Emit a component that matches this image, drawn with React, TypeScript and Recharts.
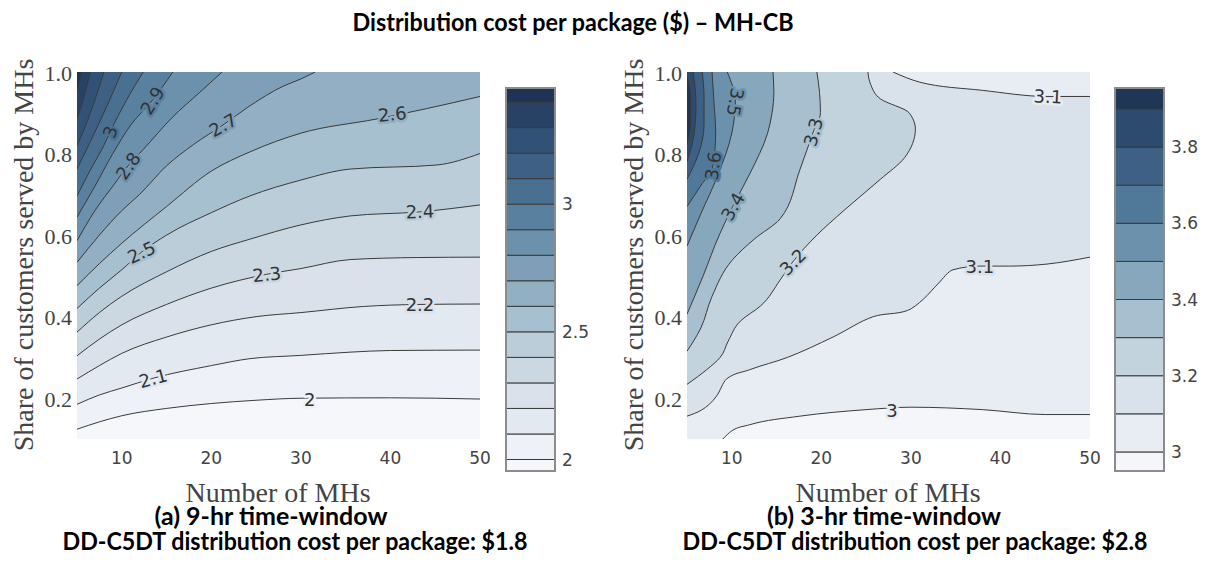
import React from 'react';
import { ComposedChart, Area, Line, XAxis, YAxis, Scatter, ReferenceArea } from 'recharts';

type Pt = [number, number];

// ---------------- shared axes ----------------
const xTicks = [10, 20, 30, 40, 50];
const yTicks = [0.2, 0.4, 0.6, 0.8, 1.0];
const xDomain: [number, number] = [5, 50];
const yDomain: [number, number] = [0.1, 1.0];

// ---------------- panel (a): 9-hr time-window ----------------
const levelsA = [2.0, 2.1, 2.2, 2.3, 2.4, 2.5, 2.6, 2.7, 2.8, 2.9, 3.0, 3.1, 3.2, 3.3, 3.4];
const cA200: Pt[] = [[5, 0.124], [7.5, 0.142], [10, 0.157], [15, 0.175], [20, 0.187], [25, 0.195], [30, 0.2], [40, 0.201], [50, 0.198]];
const cA210: Pt[] = [[5, 0.185], [7.5, 0.208], [10, 0.225], [13.5, 0.249], [20, 0.28], [24.3, 0.297], [30, 0.305], [35.5, 0.313], [40, 0.317], [50, 0.318]];
const cA220: Pt[] = [[5, 0.247], [7.5, 0.28], [10, 0.31], [15, 0.35], [20, 0.38], [25, 0.4], [30, 0.41], [37, 0.425], [43.3, 0.43], [50, 0.431]];
const cA230: Pt[] = [[5, 0.304], [7.5, 0.345], [10, 0.38], [15, 0.43], [20, 0.47], [26.2, 0.504], [30, 0.518], [35.5, 0.54], [43, 0.545], [50, 0.546]];
const cA240: Pt[] = [[5, 0.362], [7.5, 0.41], [10, 0.45], [15, 0.51], [20, 0.56], [24.3, 0.59], [30, 0.625], [35.5, 0.647], [43.3, 0.657], [50, 0.674]];
const cA250: Pt[] = [[5, 0.42], [7.5, 0.47], [10, 0.515], [12.2, 0.558], [15, 0.6], [20, 0.655], [24.3, 0.696], [30, 0.735], [35.5, 0.762], [45.2, 0.772], [50, 0.8]];
const cA260: Pt[] = [[5, 0.476], [7.5, 0.53], [10, 0.58], [15, 0.67], [20, 0.757], [24.3, 0.804], [30, 0.85], [38.5, 0.885], [44, 0.91], [50, 0.94]];
const cA270: Pt[] = [[5, 0.533], [7.5, 0.6], [10, 0.66], [12, 0.7], [15, 0.77], [18, 0.822], [21.3, 0.87], [24.3, 0.917], [28, 0.965], [30, 0.983], [31.6, 1.0]];
const cA280: Pt[] = [[5, 0.586], [7, 0.66], [9, 0.72], [10.7, 0.77], [12.4, 0.81], [15.7, 0.89], [18.7, 0.95], [21.2, 1.0]];
const cA290: Pt[] = [[5, 0.644], [7, 0.72], [9, 0.8], [11, 0.87], [13.4, 0.93], [15.7, 1.0]];
const cA300: Pt[] = [[5, 0.696], [6.5, 0.76], [8, 0.82], [8.7, 0.853], [10.5, 0.93], [12.4, 1.0]];
const cA310: Pt[] = [[5, 0.762], [6.5, 0.83], [8, 0.9], [10, 1.0]];
const cA320: Pt[] = [[5, 0.819], [6.5, 0.9], [8, 1.0]];
const cA330: Pt[] = [[5, 0.885], [5.8, 0.94], [6.5, 1.0]];
const cA340: Pt[] = [[5, 0.95], [5.5, 1.0]];
const contoursA = [cA200, cA210, cA220, cA230, cA240, cA250, cA260, cA270, cA280, cA290, cA300, cA310, cA320, cA330, cA340];
const labelsA = [
  { x: 31, y: 0.198, text: '2', angle: 0, level: 2.0 },
  { x: 13.5, y: 0.249, text: '2.1', angle: -15, level: 2.1 },
  { x: 43.3, y: 0.43, text: '2.2', angle: 0, level: 2.2 },
  { x: 26.2, y: 0.504, text: '2.3', angle: -6, level: 2.3 },
  { x: 43.3, y: 0.658, text: '2.4', angle: -2, level: 2.4 },
  { x: 12.2, y: 0.558, text: '2.5', angle: -25, level: 2.5 },
  { x: 40.2, y: 0.897, text: '2.6', angle: -6, level: 2.6 },
  { x: 21.3, y: 0.87, text: '2.7', angle: -30, level: 2.7 },
  { x: 10.7, y: 0.77, text: '2.8', angle: -55, level: 2.8 },
  { x: 13.4, y: 0.93, text: '2.9', angle: -58, level: 2.9 },
  { x: 8.7, y: 0.853, text: '3', angle: -70, level: 3.0 },
];
const cbarRangeA: [number, number] = [1.955, 3.455];
const cbarTicksA = [2, 2.5, 3];

// ---------------- panel (b): 3-hr time-window ----------------
const levelsB = [3.0, 3.1, 3.2, 3.3, 3.4, 3.5, 3.6, 3.7, 3.8, 3.9];
// contours running left-to-right
const cB300: Pt[] = [[9, 0.1], [10, 0.12], [12, 0.135], [17.6, 0.156], [25, 0.172], [30, 0.178], [38, 0.172], [45, 0.16], [50, 0.16]];
const cB310lo: Pt[] = [[5, 0.156], [8.3, 0.205], [9.4, 0.247], [12, 0.27], [16.2, 0.3], [21.3, 0.35], [25.8, 0.4], [29.6, 0.415], [31.4, 0.443], [33, 0.48], [34.7, 0.515], [37.7, 0.524], [41, 0.524], [45.2, 0.529], [50, 0.546]];
const cB310hi: Pt[] = [[28, 1.0], [31, 0.975], [38, 0.955], [45.2, 0.94], [50, 0.94]];
// contours running bottom-to-top
const cB320: Pt[] = [[5, 0.234], [7.2, 0.27], [8.7, 0.3], [9.6, 0.34], [11, 0.39], [13.2, 0.426], [15.4, 0.49], [16.8, 0.534], [19.5, 0.6], [22.5, 0.66], [26.6, 0.737], [29.3, 0.79], [30.5, 0.86], [29.8, 0.9], [26.6, 0.934], [25.5, 0.97], [25.2, 1.0]];
const cB330: Pt[] = [[5, 0.315], [6.5, 0.37], [7.8, 0.45], [10.1, 0.54], [12.5, 0.59], [15.4, 0.64], [17.6, 0.76], [19.1, 0.853], [19.9, 0.9], [19.8, 0.95], [19.5, 1.0]];
const cB340: Pt[] = [[5, 0.406], [6.8, 0.5], [8.6, 0.6], [10.1, 0.67], [12, 0.75], [14, 0.85], [14.5, 0.9], [14.7, 0.95], [14.6, 1.0]];
const cB350: Pt[] = [[5, 0.573], [6.5, 0.65], [8.5, 0.75], [10, 0.85], [10.4, 0.926], [9.5, 1.0]];
const cB360: Pt[] = [[5, 0.67], [6.5, 0.72], [7.9, 0.77], [8.2, 0.85], [8.0, 0.93], [7.8, 1.0]];
const cB370: Pt[] = [[5, 0.737], [6.3, 0.8], [6.9, 0.87], [6.9, 0.94], [6.7, 1.0]];
const cB380: Pt[] = [[5, 0.78], [5.8, 0.85], [6.0, 0.92], [5.7, 1.0]];
const cB390: Pt[] = [[5, 0.82], [5.4, 0.88], [5.4, 0.94], [5, 0.99]];
const verticalB = [
  { level: 3.2, pts: cB320 }, { level: 3.3, pts: cB330 }, { level: 3.4, pts: cB340 }, { level: 3.5, pts: cB350 },
  { level: 3.6, pts: cB360 }, { level: 3.7, pts: cB370 }, { level: 3.8, pts: cB380 }, { level: 3.9, pts: cB390 },
];
const labelsB = [
  { x: 27.9, y: 0.17, text: '3', angle: 0, level: 3.0 },
  { x: 37.7, y: 0.524, text: '3.1', angle: 0, level: 3.1 },
  { x: 45.3, y: 0.94, text: '3.1', angle: 3, level: 3.0 },
  { x: 16.8, y: 0.534, text: '3.2', angle: -45, level: 3.2 },
  { x: 19.1, y: 0.853, text: '3.3', angle: -75, level: 3.3 },
  { x: 10.1, y: 0.67, text: '3.4', angle: -60, level: 3.4 },
  { x: 10.4, y: 0.926, text: '3.5', angle: 100, level: 3.5 },
  { x: 7.9, y: 0.77, text: '3.6', angle: -82, level: 3.6 },
];
const cbarRangeB: [number, number] = [2.95, 3.955];
const cbarTicksB = [3, 3.2, 3.4, 3.6, 3.8];

// ---------------- colours ----------------
const SCALE = ['#f8f9fc', '#e8edf4', '#d9e1ea', '#c3d3de', '#a6bfce', '#86a6bc', '#6a90ab', '#4f7797', '#3c5f83', '#2b4a6e', '#1c2e4e'];
function hex(h: string) { return [1, 3, 5].map((i) => parseInt(h.slice(i, i + 2), 16)); }
function scaleColor(t: number) {
  const tt = Math.max(0, Math.min(1, t)) * (SCALE.length - 1);
  const i = Math.min(SCALE.length - 2, Math.floor(tt));
  const f = tt - i;
  const a = hex(SCALE[i]); const b = hex(SCALE[i + 1]);
  const c = a.map((v, k) => Math.round(v + (b[k] - v) * f));
  return `rgb(${c[0]},${c[1]},${c[2]})`;
}
function bandColor(lo: number, hi: number, range: [number, number]) {
  return scaleColor(((lo + hi) / 2 - range[0]) / (range[1] - range[0]));
}
function aboveColor(level: number, levels: number[], range: [number, number]) {
  const i = levels.indexOf(level);
  const hi = i + 1 < levels.length ? levels[i + 1] : range[1];
  return bandColor(level, hi, range);
}

const toObj = (c: Pt[]) => c.map(([x, y]) => ({ x, y }));
const fullSpan = [{ x: xDomain[0] }, { x: xDomain[1] }];
const LINE = '#3a3a3a';
const SERIF = "'Liberation Serif', 'DejaVu Serif', serif";
const SANS = "'DejaVu Sans', sans-serif";

const XTick = (p: any) => (
  <text x={p.x} y={p.y + 19} textAnchor="middle" dominantBaseline="central" style={{ fontFamily: SANS, fontSize: 17 }} fill="#444">
    {p.payload.value}
  </text>
);
const YTick = (p: any) => (
  <text x={p.x - 5} y={p.y + 1} textAnchor="end" dominantBaseline="central" style={{ fontFamily: SERIF, fontSize: 22 }} fill="#444">
    {Number(p.payload.value).toFixed(1)}
  </text>
);
const CbTick = (p: any) => (
  <text x={p.x + 7} y={p.y} textAnchor="start" dominantBaseline="central" style={{ fontFamily: SANS, fontSize: 17 }} fill="#444">
    {String(p.payload.value)}
  </text>
);
const makeLabelShape = (levels: number[], range: [number, number]) => (p: any) => {
  const { cx, cy, payload } = p;
  return (
    <text x={cx} y={cy} transform={`rotate(${payload.angle} ${cx} ${cy})`} textAnchor="middle" dominantBaseline="central"
      fill="#333" stroke={aboveColor(payload.level, levels, range)}
      strokeWidth={5} strokeLinejoin="round" style={{ paintOrder: 'stroke', fontFamily: SANS, fontSize: 18 }}>
      {payload.text}
    </text>
  );
};

const MARGIN_H = { top: 72, right: 120, bottom: 11, left: 0 };
const MARGIN_V = { top: 72, right: 120, bottom: 41, left: 77 };

function PanelA() {
  return (
    <div style={{ position: 'absolute', left: 0, top: 0 }}>
      <ComposedChart width={600} height={480} margin={MARGIN_H}>
        <XAxis type="number" dataKey="x" domain={xDomain} ticks={xTicks} interval={0} allowDataOverflow axisLine={false} tickLine={false} tickSize={0} tickMargin={0} height={30} tick={XTick} />
        <YAxis type="number" dataKey="y" domain={yDomain} ticks={yTicks} interval={0} allowDataOverflow axisLine={false} tickLine={false} tickSize={0} tickMargin={0} width={77} tick={YTick} />
        <Area data={fullSpan} dataKey={() => yDomain} type="linear" fill={bandColor(cbarRangeA[0], levelsA[0], cbarRangeA)} fillOpacity={1} stroke="none" isAnimationActive={false} />
        {contoursA.map((c, i) => (
          <Area key={'fa' + i} data={toObj(c)} dataKey={(d: any) => [d.y, yDomain[1]]} type="monotone"
            fill={aboveColor(levelsA[i], levelsA, cbarRangeA)} fillOpacity={1} stroke="none" isAnimationActive={false} />
        ))}
        {contoursA.map((c, i) => (
          <Line key={'la' + i} data={toObj(c)} dataKey="y" type="monotone" stroke={LINE} strokeWidth={1} dot={false} isAnimationActive={false} />
        ))}
        <Scatter data={labelsA} shape={makeLabelShape(levelsA, cbarRangeA)} isAnimationActive={false} />
      </ComposedChart>
    </div>
  );
}

function PanelB() {
  return (
    <>
      <div style={{ position: 'absolute', left: 610, top: 0 }}>
        <ComposedChart width={600} height={480} margin={MARGIN_H}>
          <XAxis type="number" dataKey="x" domain={xDomain} ticks={xTicks} interval={0} allowDataOverflow axisLine={false} tickLine={false} tickSize={0} tickMargin={0} height={30} tick={XTick} />
          <YAxis type="number" dataKey="y" domain={yDomain} ticks={yTicks} interval={0} allowDataOverflow axisLine={false} tickLine={false} tickSize={0} tickMargin={0} width={77} tick={YTick} />
          <Area data={fullSpan} dataKey={() => yDomain} type="linear" fill={aboveColor(3.1, levelsB, cbarRangeB)} fillOpacity={1} stroke="none" isAnimationActive={false} />
          <Area data={toObj(cB310lo)} dataKey={(d: any) => [yDomain[0], d.y]} type="monotone" fill={aboveColor(3.0, levelsB, cbarRangeB)} fillOpacity={1} stroke="none" isAnimationActive={false} />
          <Area data={toObj(cB300)} dataKey={(d: any) => [yDomain[0], d.y]} type="monotone" fill={bandColor(cbarRangeB[0], 3.0, cbarRangeB)} fillOpacity={1} stroke="none" isAnimationActive={false} />
          <Area data={toObj(cB310hi)} dataKey={(d: any) => [d.y, yDomain[1]]} type="monotone" fill={aboveColor(3.0, levelsB, cbarRangeB)} fillOpacity={1} stroke="none" isAnimationActive={false} />
          {[cB300, cB310lo, cB310hi].map((c, i) => (
            <Line key={'lb' + i} data={toObj(c)} dataKey="y" type="monotone" stroke={LINE} strokeWidth={1} dot={false} isAnimationActive={false} />
          ))}
        </ComposedChart>
      </div>
      <div style={{ position: 'absolute', left: 610, top: 0 }}>
        <ComposedChart layout="vertical" width={600} height={480} margin={MARGIN_V}>
          <XAxis type="number" dataKey="x" domain={xDomain} hide allowDataOverflow />
          <YAxis type="number" dataKey="y" domain={yDomain} hide allowDataOverflow reversed />
          {verticalB.map((c, i) => (
            <Area key={'fv' + i} data={toObj(c.pts)} dataKey={(d: any) => [xDomain[0], d.x]} type="monotone"
              fill={aboveColor(c.level, levelsB, cbarRangeB)} fillOpacity={1} stroke="none" isAnimationActive={false} />
          ))}
          {verticalB.map((c, i) => (
            <Line key={'lv' + i} data={toObj(c.pts)} dataKey="x" type="monotone" stroke={LINE} strokeWidth={1} dot={false} isAnimationActive={false} />
          ))}
          <Scatter data={labelsB} shape={makeLabelShape(levelsB, cbarRangeB)} isAnimationActive={false} />
        </ComposedChart>
      </div>
    </>
  );
}

function ColorBar({ left, range, levels, ticks }: { left: number; range: [number, number]; levels: number[]; ticks: number[] }) {
  const edges = [range[0], ...levels, range[1]];
  const bands = edges.slice(0, -1).map((lo, i) => ({ lo, hi: edges[i + 1], color: bandColor(lo, edges[i + 1], range) }));
  return (
    <div style={{ position: 'absolute', left, top: 0 }}>
      <ComposedChart width={110} height={480} margin={{ top: 88, right: 5, bottom: 9, left: 16 }}>
        <XAxis type="number" dataKey="x" domain={[0, 1]} hide />
        <YAxis type="number" dataKey="y" orientation="right" domain={range} ticks={ticks} interval={0} allowDataOverflow axisLine={false} tickLine={false} tickSize={0} tickMargin={0} width={40} tick={CbTick} />
        <Line data={[{ x: 0, y: range[0] }, { x: 1, y: range[0] }]} dataKey="y" stroke="none" dot={false} isAnimationActive={false} />
        {bands.map((b, i) => (
          <ReferenceArea key={i} x1={0} x2={1} y1={b.lo} y2={b.hi} fill={b.color} fillOpacity={1} stroke="#3a3a3a" strokeWidth={1} ifOverflow="visible" />
        ))}
        <ReferenceArea x1={0} x2={1} y1={range[0]} y2={range[1]} fill="none" stroke="#8c8c8c" strokeWidth={2} ifOverflow="visible" />
      </ComposedChart>
    </div>
  );
}

function Texts() {
  const bold = 'Lato';
  return (
    <svg width={1208} height={575} style={{ position: 'absolute', left: 0, top: 0, pointerEvents: 'none' }}>
      <text x={573} y={31} textAnchor="middle" fontFamily={bold} fontWeight="bold" fontSize={25} fill="#000" textLength={441} lengthAdjust="spacingAndGlyphs">
        Distribution cost per package ($) – MH-CB
      </text>
      <text transform="translate(33,255) rotate(-90)" textAnchor="middle" style={{ fontFamily: SERIF, fontSize: 28 }} fill="#444">Share of customers served by MHs</text>
      <text transform="translate(643,255) rotate(-90)" textAnchor="middle" style={{ fontFamily: SERIF, fontSize: 28 }} fill="#444">Share of customers served by MHs</text>
      <text x={278} y={502} textAnchor="middle" style={{ fontFamily: SERIF, fontSize: 28 }} fill="#444">Number of MHs</text>
      <text x={888} y={502} textAnchor="middle" style={{ fontFamily: SERIF, fontSize: 28 }} fill="#444">Number of MHs</text>
      <text x={271} y={525} textAnchor="middle" fontFamily={bold} fontWeight="bold" fontSize={24} fill="#000" textLength={233} lengthAdjust="spacingAndGlyphs">(a) 9-hr time-window</text>
      <text x={295} y={550} textAnchor="middle" fontFamily={bold} fontWeight="bold" fontSize={24} fill="#000" textLength={465} lengthAdjust="spacingAndGlyphs">DD-C5DT distribution cost per package: $1.8</text>
      <text x={884} y={525} textAnchor="middle" fontFamily={bold} fontWeight="bold" fontSize={24} fill="#000" textLength={234} lengthAdjust="spacingAndGlyphs">(b) 3-hr time-window</text>
      <text x={915} y={550} textAnchor="middle" fontFamily={bold} fontWeight="bold" fontSize={24} fill="#000" textLength={465} lengthAdjust="spacingAndGlyphs">DD-C5DT distribution cost per package: $2.8</text>
    </svg>
  );
}

export default function App() {
  return (
    <div style={{ position: 'absolute', left: 0, top: 0, width: 1208, height: 575, background: '#fff', overflow: 'hidden' }}>
      <PanelA />
      <ColorBar left={490} range={cbarRangeA} levels={levelsA} ticks={cbarTicksA} />
      <PanelB />
      <ColorBar left={1099} range={cbarRangeB} levels={levelsB} ticks={cbarTicksB} />
      <Texts />
    </div>
  );
}
